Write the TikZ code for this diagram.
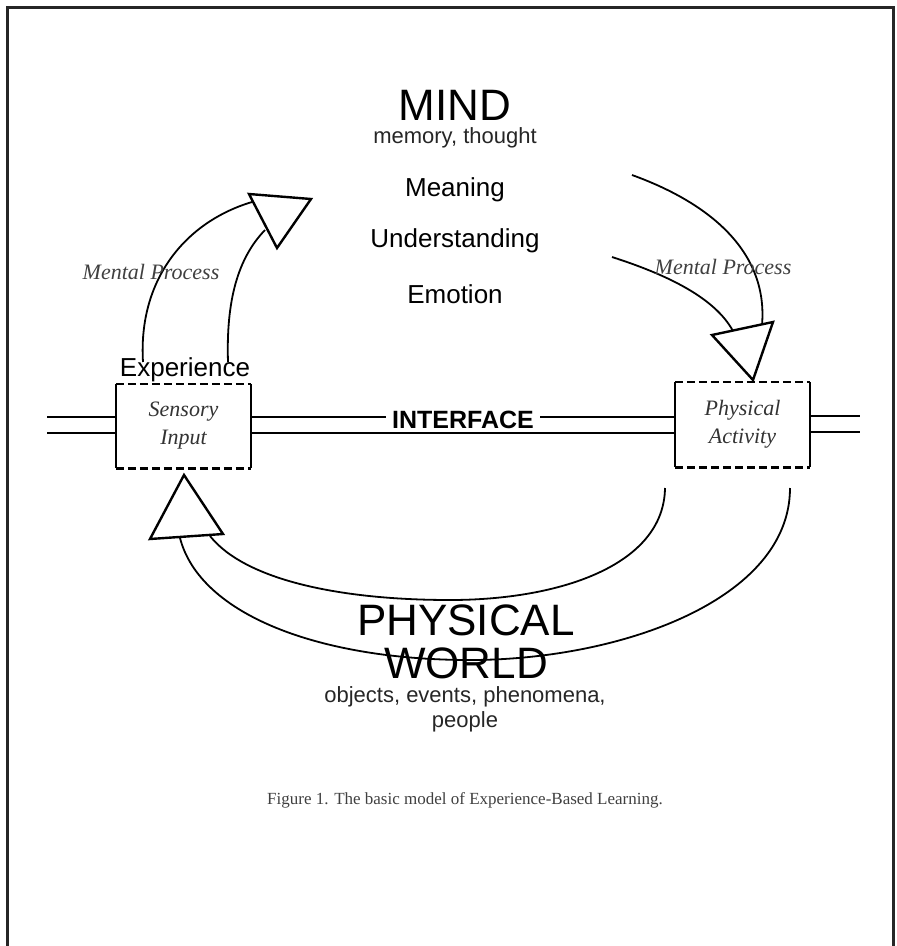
\documentclass[tikz,border=0pt]{standalone}
\usepackage{fontspec}
\setmainfont{Liberation Serif}
\setsansfont{Liberation Sans}
\begin{document}
\begin{tikzpicture}[x=1pt,y=-1pt,
  frameline/.style={line width=3pt,draw=black!85},
  curve/.style={line width=1.8pt},
  head/.style={line width=2.4pt,line join=miter,fill=white},
  wire/.style={line width=2pt},
  boxside/.style={line width=2.2pt},
  boxdash/.style={line width=2.6pt,dash pattern=on 8pt off 4pt},
  big/.style={font=\sffamily\fontsize{44}{50}\selectfont,inner sep=0pt},
  mid/.style={font=\sffamily\fontsize{26}{30}\selectfont,inner sep=0pt},
  small/.style={font=\sffamily\fontsize{22}{26}\selectfont,inner sep=0pt,text=black!85},
  ital/.style={font=\itshape\fontsize{22}{27}\selectfont,inner sep=0pt,text=black!75},
  boxtxt/.style={font=\itshape\fontsize{22}{28}\selectfont,align=center,text=black!80,minimum width=135pt,inner sep=0pt}
]
\useasboundingbox (0,0) rectangle (897,946);
% frame (open at the bottom)
\draw[frameline] (7,946) -- (7,7) -- (893,7) -- (893,946);

% mind texts
\node[big] (mind) at (455,105) {MIND};
\node[small] (memory) at (455,138) {memory, thought};
\node[mid] (meaning) at (455,190) {Meaning};
\node[mid] (underst) at (455,241) {Understanding};
\node[mid] (emotion) at (455,294) {Emotion};

% boxes
\node[boxtxt,minimum height=84pt] (sens) at (183.5,426) {Sensory\\Input};
\node[boxtxt,minimum height=85pt] (phys) at (742.5,424.5) {Physical\\Activity};
\foreach \b in {sens,phys}{
  \draw[boxside] (\b.north west) -- (\b.south west);
  \draw[boxside] (\b.north east) -- (\b.south east);
  \draw[boxdash] (\b.north west) -- (\b.north east);
  \draw[boxdash] (\b.south west) -- (\b.south east);
}
\node[font=\sffamily\fontsize{26}{30}\selectfont,inner sep=0pt] (exper) at (185,370) {Experience};

% interface
\node[font=\sffamily\bfseries\fontsize{25}{30}\selectfont,inner sep=0pt] (iface) at (463,420) {INTERFACE};
\coordinate (lu) at (47,417);  \coordinate (ll) at (47,433);
\coordinate (ru) at (860,416); \coordinate (rl) at (860,432);
\draw[wire] (lu) -- (sens.west |- lu);
\draw[wire] (ll) -- (sens.west |- ll);
\draw[wire] (sens.east |- lu) -- ([xshift=-6pt]iface.west |- lu);
\draw[wire] ([xshift=6pt]iface.east |- lu) -- (phys.west |- lu);
\draw[wire] (sens.east |- ll) -- (phys.west |- ll);
\draw[wire] (phys.east |- ru) -- (ru);
\draw[wire] (phys.east |- rl) -- (rl);

% upper-left arrow (sensory -> mind)
\coordinate (la1) at (143,362); \coordinate (la2) at (228,362);
\coordinate (lh1) at (249,194); \coordinate (lh2) at (311,199); \coordinate (lh3) at (277,248);
\draw[curve] (la1) .. controls (138,280) and (185,222) .. (252,202);
\draw[curve] (la2) .. controls (226,300) and (238,258) .. (265,230);
\draw[head] (lh1) -- (lh2) -- (lh3) -- cycle;
\node[ital] (mp1) at (151,272) {Mental Process};

% upper-right arrow (mind -> physical activity)
\coordinate (ra1) at (632,175); \coordinate (ra2) at (612,257);
\coordinate (rh1) at (712,335); \coordinate (rh2) at (773,322); \coordinate (rh3) at (753,380);
\draw[curve] (ra1) .. controls (715,205) and (768,255) .. (762,325);
\draw[curve] (ra2) .. controls (668,275) and (715,298) .. (733,331);
\draw[head] (rh1) -- (rh2) -- (rh3) -- cycle;
\node[ital] (mp2) at (723,267) {Mental Process};

% bottom arrow (physical world -> sensory)
\coordinate (ba1) at (665,488); \coordinate (ba2) at (790,488);
\coordinate (bh1) at (184,475); \coordinate (bh2) at (150,539); \coordinate (bh3) at (223,534);
\draw[curve] (ba1) .. controls (664,565) and (560,600) .. (450,600)
                   .. controls (340,600) and (245,580) .. (210,536);
\draw[curve] (ba2) .. controls (790,600) and (620,660) .. (470,660)
                   .. controls (320,660) and (200,615) .. (180,538);
\draw[head] (bh1) -- (bh2) -- (bh3) -- cycle;

% physical world texts
\node[big] (physw) at (466,620) {PHYSICAL};
\node[big] (world) at (466,663) {WORLD};
\node[small,align=center,font=\sffamily\fontsize{22}{25}\selectfont] (objects) at (465,709) {objects, events, phenomena,\\people};

% caption
\node[font=\fontsize{17}{20}\selectfont,inner sep=0pt,text=black!75] (caption) at (465,800) {Figure 1. The basic model of Experience-Based Learning.};
\end{tikzpicture}
\end{document}
